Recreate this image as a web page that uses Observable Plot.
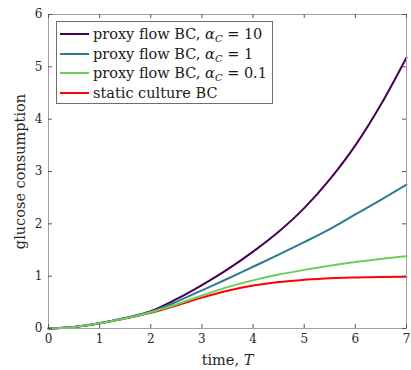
<!DOCTYPE html>
<html>
<head>
<meta charset="utf-8">
<script src="https://cdn.jsdelivr.net/npm/d3@7"></script>
<script src="https://cdn.jsdelivr.net/npm/@observablehq/plot@0.6"></script>
<style>
  html, body { margin: 0; padding: 0; background: white; }
  #wrap { position: relative; width: 411px; height: 370px; }
  #legend {
    position: absolute; left: 56px; top: 21px; width: 215px; height: 81px;
    border: 1px solid #6e6e6e; background: white;
    font-family: "DejaVu Serif", serif; font-size: 14.5px; color: #1a1a1a;
  }
  .row { position: absolute; left: 0; height: 20px; display: flex; align-items: center; white-space: nowrap; }
  .sw { width: 29px; height: 2px; margin-left: 3px; margin-right: 4px; }
  sub { font-size: 10px; vertical-align: -3px; line-height: 0; }
</style>
</head>
<body>
<div id="wrap"></div>
<script>
// ---- data ----
const times    = [0, 0.5, 1, 1.5, 2, 2.5, 3, 3.5, 4, 4.5, 5, 5.5, 6, 6.5, 7];
const alpha10  = [0, 0.03, 0.1, 0.2, 0.33, 0.56, 0.83, 1.13, 1.47, 1.85, 2.3, 2.85, 3.5, 4.28, 5.18];
const alpha1   = [0, 0.03, 0.1, 0.2, 0.32, 0.51, 0.73, 0.95, 1.18, 1.41, 1.65, 1.9, 2.18, 2.46, 2.75];
const alpha01  = [0, 0.03, 0.1, 0.19, 0.31, 0.46, 0.63, 0.79, 0.92, 1.03, 1.12, 1.2, 1.27, 1.33, 1.38];
const staticBC = [0, 0.03, 0.1, 0.19, 0.3, 0.44, 0.59, 0.72, 0.82, 0.89, 0.93, 0.96, 0.975, 0.985, 0.99];
const seriesNames = ["proxy flow BC, αC = 10", "proxy flow BC, αC = 1", "proxy flow BC, αC = 0.1", "static culture BC"];
const seriesColors = ["#440154", "#2c7b8f", "#6ccd5a", "#ff0000"];
const xTicks = [0, 1, 2, 3, 4, 5, 6, 7];
const yTicks = [0, 1, 2, 3, 4, 5, 6];

const seriesValues = [alpha10, alpha1, alpha01, staticBC];
const table = [];
seriesValues.forEach((vals, s) => vals.forEach((v, i) => table.push({series: seriesNames[s], t: times[i], v})));
const drawOrder = [3, 0, 1, 2];

const W = 411, H = 370, mL = 48, mR = 5, mT = 14, mB = 42;
const innerW = W - mL - mR, innerH = H - mT - mB;
const tickLen = 4;

const chart = Plot.plot({
  width: W, height: H,
  marginLeft: mL, marginRight: mR, marginTop: mT, marginBottom: mB,
  style: {fontFamily: "DejaVu Serif, serif", fontSize: "12px", color: "#262626", background: "white"},
  x: {domain: [0, 7]},
  y: {domain: [0, 6]},
  color: {domain: seriesNames, range: seriesColors},
  marks: [
    ...drawOrder.map(s => Plot.line(table.filter(d => d.series === seriesNames[s]),
      {x: "t", y: "v", stroke: "series", strokeWidth: 2, curve: "monotone-x"})),
    Plot.frame({stroke: "#a0a0a0", strokeWidth: 1}),
    Plot.tickX(xTicks, {x: d => d, stroke: "#555", insetTop: innerH - tickLen}),
    Plot.tickX(xTicks, {x: d => d, stroke: "#555", insetBottom: innerH - tickLen}),
    Plot.tickY(yTicks, {y: d => d, stroke: "#555", insetRight: innerW - tickLen}),
    Plot.tickY(yTicks, {y: d => d, stroke: "#555", insetLeft: innerW - tickLen}),
    Plot.axisX(xTicks, {tickSize: 0, tickPadding: 6, tickFormat: d => String(d), label: "time, T", labelAnchor: "center", labelArrow: "none", labelOffset: 36}),
    Plot.axisY(yTicks, {tickSize: 0, tickPadding: 6, tickFormat: d => String(d), label: "glucose consumption", labelAnchor: "center", labelArrow: "none", labelOffset: 34})
  ]
});

const wrap = document.getElementById("wrap");
wrap.appendChild(chart);

const xl = chart.querySelector('g[aria-label="x-axis label"] text');
if (xl) { xl.setAttribute("font-size", "14.5"); xl.innerHTML = 'time, <tspan font-style="italic">T</tspan>'; }
const yl = chart.querySelector('g[aria-label="y-axis label"] text');
if (yl) { yl.setAttribute("font-size", "14.5"); }

// legend overlay
const legend = document.createElement("div");
legend.id = "legend";
const rowTops = [2, 21.5, 41, 60.5];
seriesNames.forEach((name, i) => {
  const row = document.createElement("div");
  row.className = "row";
  row.style.top = rowTops[i] + "px";
  const sw = document.createElement("div");
  sw.className = "sw";
  sw.style.background = seriesColors[i];
  row.appendChild(sw);
  const lab = document.createElement("span");
  const m = name.match(/^(.*)αC = (.*)$/);
  if (m) lab.innerHTML = m[1] + '<i>α</i><sub><i>C</i></sub> = ' + m[2];
  else lab.textContent = name;
  row.appendChild(lab);
  legend.appendChild(row);
});
wrap.appendChild(legend);
</script>
</body>
</html>
